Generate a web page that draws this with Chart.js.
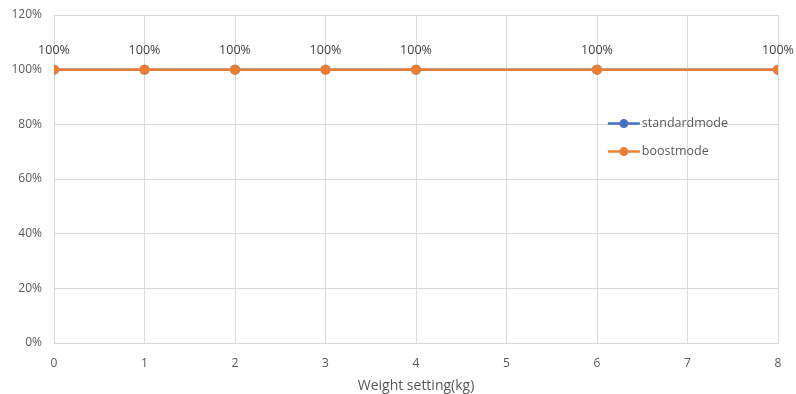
<!DOCTYPE html>
<html>
<head>
<meta charset="utf-8">
<script src="https://cdn.jsdelivr.net/npm/chart.js@4/dist/chart.umd.min.js"></script>
<style>
html,body{margin:0;padding:0;background:#fff;}
#wrap{width:796px;height:394px;position:relative;}
</style>
</head>
<body>
<div id="wrap"><canvas id="c" width="796" height="394"></canvas></div>
<script>
const weights = [0, 1, 2, 3, 4, 6, 8];
const standardmode = [100, 100, 100, 100, 100, 100, 100];
const boostmode = [100, 100, 100, 100, 100, 100, 100];
const seriesNames = ['standardmode', 'boostmode'];
const xTitle = 'Weight setting(kg)';

const FONT = "'Open Sans', 'Liberation Sans', sans-serif";
const TXT = '#595959';

const toPts = (xs, ys) => xs.map((x, i) => ({x: x, y: ys[i]}));

const labelPlugin = {
  id: 'pointLabels',
  afterDatasetsDraw(chart) {
    const ctx = chart.ctx;
    const meta = chart.getDatasetMeta(1);
    const ds = chart.data.datasets[1];
    ctx.save();
    ctx.font = '12.5px ' + FONT;
    ctx.fillStyle = '#404040';
    ctx.textAlign = 'center';
    ctx.textBaseline = 'middle';
    meta.data.forEach((pt, i) => {
      ctx.fillText(ds.data[i].y + '%', pt.x, pt.y - 19);
    });
    ctx.restore();
  }
};

const legendPlugin = {
  id: 'innerLegend',
  afterDraw(chart) {
    const ctx = chart.ctx;
    const ca = chart.chartArea;
    const x0 = ca.left + (ca.right - ca.left) * 0.765;
    const y0 = ca.top + (ca.bottom - ca.top) * 0.331;
    const ys = [y0, y0 + 28];
    ctx.save();
    ctx.font = '12.5px ' + FONT;
    ctx.textBaseline = 'middle';
    ctx.textAlign = 'left';
    chart.data.datasets.forEach((ds, i) => {
      const y = ys[i];
      ctx.strokeStyle = ds.borderColor;
      ctx.lineWidth = 2.5;
      ctx.beginPath();
      ctx.moveTo(x0, y);
      ctx.lineTo(x0 + 32, y);
      ctx.stroke();
      ctx.fillStyle = ds.backgroundColor;
      ctx.beginPath();
      ctx.arc(x0 + 16, y, 4.5, 0, Math.PI * 2);
      ctx.fill();
      ctx.fillStyle = TXT;
      ctx.fillText(ds.label, x0 + 34, y);
    });
    ctx.restore();
  }
};

new Chart(document.getElementById('c'), {
  type: 'line',
  data: {
    datasets: [
      {
        label: seriesNames[0],
        data: toPts(weights, standardmode),
        borderColor: '#4472C4',
        backgroundColor: '#4472C4',
        borderWidth: 2.5,
        pointRadius: 5,
        pointBorderWidth: 0,
        order: 2
      },
      {
        label: seriesNames[1],
        data: toPts(weights, boostmode),
        borderColor: '#ED7D31',
        backgroundColor: '#ED7D31',
        borderWidth: 2.5,
        pointRadius: 5,
        pointBorderWidth: 0,
        order: 1
      }
    ]
  },
  options: {
    responsive: false,
    animation: false,
    devicePixelRatio: 1,
    layout: {padding: {left: 0, right: 18, top: 15, bottom: 0}},
    plugins: {legend: {display: false}, tooltip: {enabled: false}},
    scales: {
      x: {
        type: 'linear',
        min: 0,
        max: 8,
        afterFit(scale) { scale.height = 51; scale.paddingLeft = 0; scale.paddingRight = 0; },
        ticks: {stepSize: 1, color: TXT, font: {family: FONT, size: 12}, padding: 13},
        grid: {color: '#d9d9d9', lineWidth: 1, drawTicks: false},
        border: {color: '#d9d9d9'},
        title: {display: true, text: xTitle, color: TXT, font: {family: FONT, size: 14}, padding: {top: 4, bottom: 0}}
      },
      y: {
        min: 0,
        max: 120,
        afterFit(scale) { scale.width = 54; scale.paddingTop = 0; scale.paddingBottom = 0; },
        ticks: {stepSize: 20, color: TXT, font: {family: FONT, size: 12}, padding: 12,
          callback: v => v + '%'},
        grid: {color: '#d9d9d9', lineWidth: 1, drawTicks: false},
        border: {color: '#d9d9d9'}
      }
    }
  },
  plugins: [labelPlugin, legendPlugin]
});
</script>
</body>
</html>
